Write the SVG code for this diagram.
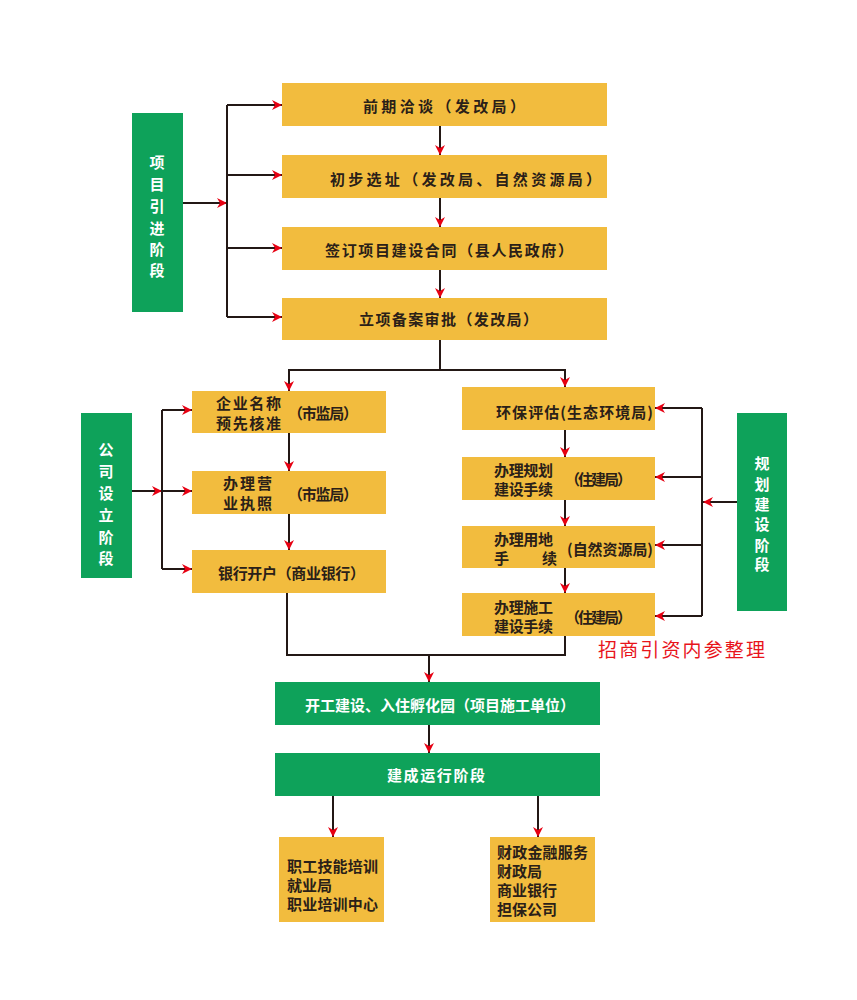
<svg xmlns="http://www.w3.org/2000/svg" width="857" height="1000" viewBox="0 0 857 1000">
<defs>
<marker id="ar" viewBox="0 0 10 10" refX="10" refY="5" markerWidth="10" markerHeight="10" markerUnits="userSpaceOnUse" orient="auto">
<path d="M0,0 L10,5 L0,10 L3,5 z" fill="#E60012"/>
</marker>
<style>
.y{fill:#F2BC3E}
.g{fill:#0EA25A}
.t{font-family:"Noto Sans CJK SC","Noto Sans",sans-serif;font-size:15px;font-weight:700;fill:#2a2018;dominant-baseline:central}
.w{font-family:"Noto Sans CJK SC","Noto Sans",sans-serif;font-size:15px;font-weight:700;fill:#ffffff;dominant-baseline:central}
.c{fill:none;stroke:#231815;stroke-width:2}
.a{marker-end:url(#ar)}
</style>
</defs>
<rect width="857" height="1000" fill="#ffffff"/>

<g id="connectors">
<path class="c a" d="M183,203 H227"/>
<path class="c" d="M227,105 V317"/>
<path class="c a" d="M227,105 H282"/>
<path class="c a" d="M227,175 H282"/>
<path class="c a" d="M227,248 H282"/>
<path class="c a" d="M227,317 H282"/>
<path class="c a" d="M440,126 V155"/>
<path class="c a" d="M440,198 V227"/>
<path class="c a" d="M440,270 V298"/>
<path class="c" d="M440,340 V370 M289,370 H565"/>
<path class="c a" d="M289,369 V391"/>
<path class="c a" d="M565,369 V387"/>
<path class="c a" d="M132,491 H162"/>
<path class="c" d="M162,410 V569"/>
<path class="c a" d="M162,410 H192"/>
<path class="c a" d="M162,491 H192"/>
<path class="c a" d="M162,569 H192"/>
<path class="c a" d="M289,433 V471"/>
<path class="c a" d="M289,514 V550"/>
<path class="c a" d="M737,502 H703"/>
<path class="c" d="M702,408 V616"/>
<path class="c a" d="M702,408 H655"/>
<path class="c a" d="M702,477 H655"/>
<path class="c a" d="M702,545 H655"/>
<path class="c a" d="M702,616 H655"/>
<path class="c a" d="M565,430 V457"/>
<path class="c a" d="M565,500 V526"/>
<path class="c a" d="M565,568 V593"/>
<path class="c" d="M287,593 V655 H565 V636"/>
<path class="c a" d="M429,655 V682"/>
<path class="c a" d="M429,725 V753"/>
<path class="c a" d="M333,796 V837"/>
<path class="c a" d="M538,796 V837"/>
</g>

<g id="stage-intro">
<rect class="g" x="132" y="113" width="51" height="199"/>
<text class="w" x="157" y="161" text-anchor="middle">项</text>
<text class="w" x="157" y="183" text-anchor="middle">目</text>
<text class="w" x="157" y="205" text-anchor="middle">引</text>
<text class="w" x="157" y="227" text-anchor="middle">进</text>
<text class="w" x="157" y="248" text-anchor="middle">阶</text>
<text class="w" x="157" y="269" text-anchor="middle">段</text>
</g>

<g id="n1"><rect class="y" x="282" y="83" width="325" height="43"/>
<text class="t" x="363" y="105" textLength="162" lengthAdjust="spacing">前期洽谈（发改局）</text></g>
<g id="n2"><rect class="y" x="282" y="155" width="325" height="43"/>
<text class="t" x="330" y="178" textLength="271" lengthAdjust="spacing">初步选址（发改局、自然资源局）</text></g>
<g id="n3"><rect class="y" x="282" y="227" width="325" height="43"/>
<text class="t" x="325" y="249" textLength="248" lengthAdjust="spacing">签订项目建设合同（县人民政府）</text></g>
<g id="n4"><rect class="y" x="282" y="298" width="325" height="42"/>
<text class="t" x="359" y="318" textLength="179" lengthAdjust="spacing">立项备案审批（发改局）</text></g>

<g id="stage-company">
<rect class="g" x="81" y="413" width="51" height="165"/>
<text class="w" x="106" y="448" text-anchor="middle">公</text>
<text class="w" x="106" y="470" text-anchor="middle">司</text>
<text class="w" x="106" y="492" text-anchor="middle">设</text>
<text class="w" x="106" y="514" text-anchor="middle">立</text>
<text class="w" x="106" y="536" text-anchor="middle">阶</text>
<text class="w" x="106" y="557" text-anchor="middle">段</text>
</g>

<g id="c1"><rect class="y" x="192" y="391" width="194" height="42"/>
<text class="t" x="216" y="402" textLength="65" lengthAdjust="spacing">企业名称</text>
<text class="t" x="216" y="422" textLength="65" lengthAdjust="spacing">预先核准</text>
<text class="t" x="288" y="412" textLength="70" lengthAdjust="spacing">（市监局）</text></g>
<g id="c2"><rect class="y" x="192" y="471" width="194" height="43"/>
<text class="t" x="223" y="482" textLength="49" lengthAdjust="spacing">办理营</text>
<text class="t" x="223" y="502" textLength="49" lengthAdjust="spacing">业执照</text>
<text class="t" x="288" y="493" textLength="70" lengthAdjust="spacing">（市监局）</text></g>
<g id="c3"><rect class="y" x="192" y="550" width="194" height="43"/>
<text class="t" x="218" y="572" textLength="147" lengthAdjust="spacing">银行开户（商业银行）</text></g>

<g id="stage-plan">
<rect class="g" x="737" y="413" width="50" height="198"/>
<text class="w" x="762" y="462" text-anchor="middle">规</text>
<text class="w" x="762" y="483" text-anchor="middle">划</text>
<text class="w" x="762" y="503" text-anchor="middle">建</text>
<text class="w" x="762" y="523" text-anchor="middle">设</text>
<text class="w" x="762" y="544" text-anchor="middle">阶</text>
<text class="w" x="762" y="563" text-anchor="middle">段</text>
</g>

<g id="p1"><rect class="y" x="462" y="387" width="193" height="43"/>
<text class="t" x="496" y="411" textLength="157" lengthAdjust="spacing">环保评估(生态环境局)</text></g>
<g id="p2"><rect class="y" x="462" y="457" width="193" height="43"/>
<text class="t" x="494" y="469" textLength="59" lengthAdjust="spacing">办理规划</text>
<text class="t" x="494" y="488" textLength="59" lengthAdjust="spacing">建设手续</text>
<text class="t" x="565" y="478" textLength="67" lengthAdjust="spacing">（住建局）</text></g>
<g id="p3"><rect class="y" x="462" y="526" width="193" height="42"/>
<text class="t" x="494" y="538" textLength="59" lengthAdjust="spacing">办理用地</text>
<text class="t" x="494" y="557">手</text>
<text class="t" x="542" y="557">续</text>
<text class="t" x="567" y="548" textLength="86" lengthAdjust="spacingAndGlyphs">(自然资源局)</text></g>
<g id="p4"><rect class="y" x="462" y="593" width="193" height="43"/>
<text class="t" x="494" y="606" textLength="59" lengthAdjust="spacing">办理施工</text>
<text class="t" x="494" y="625" textLength="59" lengthAdjust="spacing">建设手续</text>
<text class="t" x="565" y="616" textLength="67" lengthAdjust="spacing">（住建局）</text></g>

<text x="598" y="648" font-family="'Noto Sans CJK SC',serif" font-size="19" fill="#E8141B" dominant-baseline="central" textLength="167" lengthAdjust="spacing">招商引资内参整理</text>

<g id="build"><rect class="g" x="275" y="682" width="325" height="43"/>
<text class="w" x="305" y="704" textLength="270" lengthAdjust="spacing">开工建设、入住孵化园（项目施工单位）</text></g>
<g id="run"><rect class="g" x="275" y="753" width="325" height="43"/>
<text class="w" x="387" y="774" textLength="98" lengthAdjust="spacing">建成运行阶段</text></g>

<g id="b1"><rect class="y" x="279" y="837" width="105" height="85"/>
<text class="t" x="287" y="865" textLength="91" lengthAdjust="spacing">职工技能培训</text>
<text class="t" x="287" y="884">就业局</text>
<text class="t" x="287" y="903" textLength="91" lengthAdjust="spacing">职业培训中心</text></g>
<g id="b2"><rect class="y" x="490" y="837" width="105" height="85"/>
<text class="t" x="497" y="851" textLength="91" lengthAdjust="spacing">财政金融服务</text>
<text class="t" x="497" y="870">财政局</text>
<text class="t" x="497" y="889">商业银行</text>
<text class="t" x="497" y="908">担保公司</text></g>
</svg>
